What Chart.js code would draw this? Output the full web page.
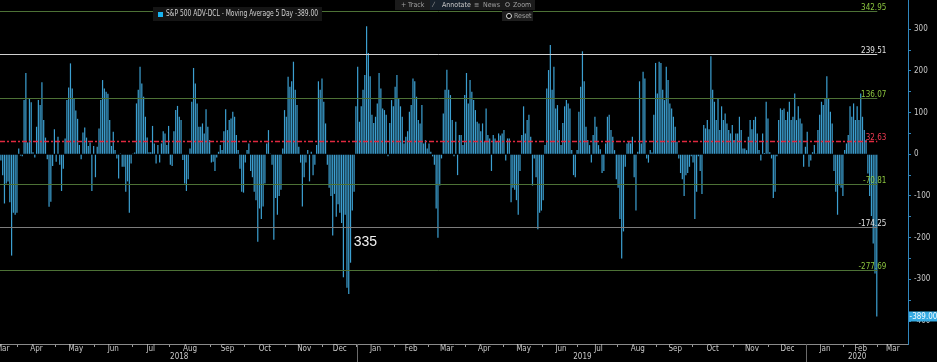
<!DOCTYPE html>
<html>
<head>
<meta charset="utf-8">
<script src="https://cdn.jsdelivr.net/npm/chart.js@4.4.1/dist/chart.umd.min.js"></script>
<style>
  html, body { margin: 0; padding: 0; background: #000; }
  #wrap { position: relative; width: 937px; height: 362px; overflow: hidden;
          font-family: 'Liberation Sans Narrow', 'DejaVu Sans Condensed', Roboto, sans-serif; }
  #chart { position: absolute; left: 0; top: 0; }
  .abs { position: absolute; white-space: nowrap; }
  .tb { left: 395px; top: 0; width: 140px; height: 10px; background: #1b1b1b; }
  .tbtxt { color: #a0a0a0; font-size: 7px; line-height: 10px; top: 0; }
  .annot { left: 430px; top: 0; width: 40px; height: 10px; background: #18222d; }
  .reset { left: 502px; top: 11px; width: 31px; height: 10px; background: #1e1e1e; }
  .legend { left: 153px; top: 7px; width: 169px; height: 14px; background: #151515; }
  .legsq { left: 158px; top: 12px; width: 5px; height: 5px; background: #19b3f0; }
  .legtxt { left: 166px; top: 7px; color: #d0d0d0; font-size: 8px; line-height: 14px;
            transform: scaleX(0.83); transform-origin: 0 0; }
  .mag { left: 505px; top: 2px; width: 3px; height: 3px; border: 1px solid #888; border-radius: 50%; }
  .dot { left: 506px; top: 13px; width: 4px; height: 4px; border: 1px solid #ddd; border-radius: 50%; background: #000; }
</style>
</head>
<body>
<div id="wrap">
  <canvas id="chart" width="937" height="362"></canvas>
  <div class="abs tb"></div>
  <div class="abs annot"></div>
  <span class="abs tbtxt" style="left:401px">+</span>
  <span class="abs tbtxt" style="left:408px">Track</span>
  <span class="abs tbtxt" style="left:433px">&#8260;</span>
  <span class="abs tbtxt" style="left:442px;color:#c8c8c8">Annotate</span>
  <span class="abs tbtxt" style="left:474px">&#8801;</span>
  <span class="abs tbtxt" style="left:483px">News</span>
  <div class="abs mag"></div>
  <span class="abs tbtxt" style="left:513px">Zoom</span>
  <div class="abs reset"></div>
  <div class="abs dot"></div>
  <span class="abs tbtxt" style="left:514px;top:11px">Reset</span>
  <div class="abs legend"></div>
  <div class="abs legsq"></div>
  <span class="abs legtxt" id="legtxt"></span>
</div>
<script>
// S&P 500 advance-decline, 5 day moving average, one value per trading day
// from mid Mar 2018 to 28 Feb 2020
const ADV_DCL_MA5 = [
  // mid Mar - Jun 2018
  -15, -50, -118, -70, -65, -115, -243, -140, -145, -140,
  14, -3, -5, 130, 195, 28, 135, 125, 5, -8,
  66, 130, 118, 173, 82, 40, -12, -126, -114, -28,
  60, -18, 42, -25, -88, -35, 38, 130, 160, 218,
  158, 135, 105, 85, 22, -12, 52, 64, 40, 20,
  28, -88, 20, -55, 18, 62, 130, 178, 158, 150,
  145, 82, 20, 54, 10, -10, -58, 2, -30, -30,
  // Jun - Sep 2018
  -90, -65, -140, -22, 2, 4, 122, 155, 210, 170,
  138, 90, 40, 5, 5, 68, 26, -22, 22, -20,
  26, 55, 50, 22, 68, -25, -28, 55, 106, 116,
  90, 82, -14, -70, -88, -60, 14, 126, 207, 170,
  122, 66, 66, 74, 50, 108, 66, 34, -20, -18,
  -40, -8, 6, 22, 10, 55, 108, 58, 82, 86,
  102, 90, 46, 10, -35, -90, -92, -20, 10, 26,
  // Oct 2018 - Jan 2019
  -40, -55, -90, -110, -210, -130, -155, -125, -70, 26,
  58, 2, -25, -205, -105, -145, -100, -85, 14, 106,
  90, 186, 162, 175, 222, 155, 118, 18, -20, -125,
  -55, -20, 10, -65, 6, -50, -25, 22, 175, 155,
  182, 126, 74, -25, -80, -100, -195, -95, -150, -120,
  -140, -165, -295, -145, -320, -335, -260, -135, -90, 115,
  210, 78, 115, 155, 190, 307, 243, 187, 95, 75, 90,
  // Jan - May 2019
  122, 195, 158, 110, 106, 95, -5, 75, 130, 115,
  162, 190, 135, 115, 90, 26, 42, 55, 102, 118,
  182, 175, 138, 82, 74, 118, 26, 34, 14, 26,
  6, -5, -25, -130, -200, -75, -10, 98, 155, 203,
  155, 142, 82, -5, 78, -50, 46, 46, 22, 142,
  195, 122, 178, 150, 130, 106, 78, 74, 55, 74,
  30, 110, 46, 38, -40, 46, 38, 30, 50, 45, 50,
  // May - Aug 2019
  58, -15, 38, 38, -115, -80, -85, -110, -145, -40,
  46, 115, 50, 82, 95, 42, -75, -10, -55, -180,
  -140, -135, -110, 22, 158, 202, 262, 155, 210, 110,
  118, 58, 22, 75, 115, 130, 122, 110, 10, -50,
  -55, 10, 102, 162, 247, 175, 66, 34, 22, -20,
  46, 90, 66, 22, 12, -45, -40, 26, 90, 95,
  58, 42, 10, -60, -80, -155, -250, -185, -30, 26, 30,
  // Aug - Nov 2019
  26, 42, -55, -135, 6, 175, 26, 198, 182, -10,
  -20, 10, 4, 95, 219, 146, 222, 219, 155, 130,
  210, 178, 122, 110, 90, 66, 30, -10, -45, -60,
  -100, -50, -45, -30, -5, -20, -155, -90, -5, -40,
  -95, 70, 62, 82, 60, 235, 155, 126, 82, 135,
  58, 115, 82, 98, 74, 58, 50, 70, 34, 50,
  50, 90, 58, 14, 14, 10, 42, 82, 60, 82,
  // Nov 2019 - Feb 2020
  90, 50, 10, -15, 50, 3, 126, 86, 5, -10,
  -105, -90, -5, 82, 110, 106, 110, 82, 102, 126,
  82, 90, 146, 82, 115, 86, 74, -30, 18, 54,
  -30, -15, 5, 22, 2, 58, 95, 126, 118, 135,
  187, 135, 102, 74, -40, -90, -145, -75, -80, -100,
  10, 26, 46, 115, 90, 122, 82, 115, 82, 146,
  90, 58, 34, -46, -100, -148, -214, -286, -389
];

// mean and +/- 1, 2, 3 standard deviations
const REF_LEVELS = [342.95, 239.51, 136.07, 32.63, -70.81, -174.25, -277.69];

// x axis: months and how many trading-day slots each one takes on screen
const MONTH_NAMES = ['Mar', 'Apr', 'May', 'Jun', 'Jul', 'Aug', 'Sep', 'Oct', 'Nov', 'Dec',
  'Jan', 'Feb', 'Mar', 'Apr', 'May', 'Jun', 'Jul', 'Aug', 'Sep', 'Oct', 'Nov', 'Dec',
  'Jan', 'Feb', 'Mar'];
const MONTH_DAYS = [10, 21, 22, 21, 21, 23, 19, 23, 21, 19,
  21, 19, 21, 21, 22, 20, 22, 22, 20, 23, 20, 21,
  21, 19, 17];
const YEARS = ['2018', '2019', '2020'];

const SERIES_NAME = 'S&P 500 ADV-DCL - Moving Average 5 Day';
const NOTE_TEXT = '335';

const FONT = "'Liberation Sans Narrow', 'DejaVu Sans Condensed', Roboto, sans-serif";
const BAR_COLOR = '#3c9fd0';

// build slot labels
const slotText = [];
const monthStarts = new Set();
const yearBounds = [0];
let pos = 0;
MONTH_NAMES.forEach((m, k) => {
  const days = MONTH_DAYS[k];
  if (k > 0) monthStarts.add(pos);
  if (k > 0 && m === 'Jan') yearBounds.push(pos);
  for (let d = 0; d < days; d++) slotText.push('');
  const mid = k === 0 ? pos + 1 : pos + Math.floor(days / 2);
  slotText[mid] = m;
  pos += days;
});
yearBounds.push(pos);
YEARS.forEach((yr, k) => {
  const mid = Math.floor((yearBounds[k] + yearBounds[k + 1]) / 2);
  slotText[mid] = [slotText[mid] || '', yr];
});
const slotLabels = slotText.map((_, i) => String(i));

const lastVal = ADV_DCL_MA5[ADV_DCL_MA5.length - 1];
document.getElementById('legtxt').textContent = SERIES_NAME + ' ' + lastVal.toFixed(2);

const LINE_STYLES = [
  { line: '#4d7236', text: '#8cc63f', dash: [], width: 1 },
  { line: '#d0d0d0', text: '#e0e0e0', dash: [], width: 1 },
  { line: '#4d7236', text: '#8cc63f', dash: [], width: 1 },
  { line: '#e0283f', text: '#ee3a52', dash: [5, 2, 2, 2], width: 1.6 },
  { line: '#4d7236', text: '#8cc63f', dash: [], width: 1 },
  { line: '#7c7c7c', text: '#e0e0e0', dash: [], width: 1 },
  { line: '#4d7236', text: '#8cc63f', dash: [], width: 1 }
];

const refLinesPlugin = {
  id: 'refLines',
  afterDatasetsDraw(chart) {
    const { ctx, chartArea, scales: { x, y } } = chart;
    const xEnd = x.getPixelForValue(ADV_DCL_MA5.length - 1) + 0.5;
    ctx.save();
    ctx.font = '8px ' + FONT;
    ctx.textAlign = 'right';
    ctx.textBaseline = 'bottom';
    REF_LEVELS.forEach((lvl, i) => {
      const st = LINE_STYLES[i];
      const py = Math.round(y.getPixelForValue(lvl)) + 0.5;
      ctx.strokeStyle = st.line;
      ctx.lineWidth = st.width;
      ctx.setLineDash(st.dash);
      ctx.beginPath();
      ctx.moveTo(chartArea.left, py);
      ctx.lineTo(xEnd, py);
      ctx.stroke();
      ctx.fillStyle = st.text;
      ctx.fillText(lvl.toFixed(2), xEnd + 9, py);
    });
    ctx.restore();
  }
};

const extrasPlugin = {
  id: 'extras',
  afterDraw(chart) {
    const { ctx, chartArea, scales: { x, y } } = chart;
    ctx.save();
    // year separators below the axis
    ctx.strokeStyle = '#6a6a6a';
    ctx.lineWidth = 1;
    yearBounds.slice(1, -1).forEach(i => {
      const px = Math.round((x.getPixelForValue(i - 1) + x.getPixelForValue(i)) / 2) + 0.5;
      ctx.beginPath();
      ctx.moveTo(px, chartArea.bottom);
      ctx.lineTo(px, chart.height);
      ctx.stroke();
    });
    // note next to the December 2018 low
    const lowIdx = ADV_DCL_MA5.indexOf(-Number(NOTE_TEXT));
    ctx.fillStyle = '#f0f0f0';
    ctx.font = "14px 'Liberation Sans', sans-serif";
    ctx.textAlign = 'left';
    ctx.textBaseline = 'middle';
    ctx.fillText(NOTE_TEXT, x.getPixelForValue(lowIdx) + 5, y.getPixelForValue(-210));
    // last value flag on the right axis
    const ly = y.getPixelForValue(lastVal);
    ctx.fillStyle = '#36abe3';
    ctx.fillRect(chartArea.right + 1, ly - 5, chart.width - chartArea.right - 1, 10);
    ctx.fillStyle = '#f4fbff';
    ctx.font = '8px ' + FONT;
    ctx.textAlign = 'center';
    ctx.fillText(lastVal.toFixed(2), (chartArea.right + chart.width) / 2 + 1, ly + 0.5);
    ctx.restore();
  }
};

new Chart(document.getElementById('chart'), {
  type: 'bar',
  data: {
    labels: slotLabels,
    datasets: [{
      data: ADV_DCL_MA5,
      backgroundColor: BAR_COLOR,
      borderWidth: 0,
      barPercentage: 0.68,
      categoryPercentage: 1
    }]
  },
  plugins: [refLinesPlugin, extrasPlugin],
  options: {
    responsive: false,
    animation: false,
    events: [],
    layout: { padding: 0 },
    plugins: { legend: { display: false }, tooltip: { enabled: false } },
    scales: {
      x: {
        type: 'category',
        offset: true,
        border: { color: '#8a8a8a' },
        grid: {
          offset: true,
          drawOnChartArea: false,
          tickLength: 3,
          color: c => monthStarts.has(c.index) ? '#9a9a9a' : 'rgba(0,0,0,0)'
        },
        ticks: {
          autoSkip: false,
          maxRotation: 0,
          minRotation: 0,
          padding: -2,
          color: '#c8c8c8',
          font: { family: FONT, size: 8, lineHeight: 1 },
          callback: (v, i) => slotText[i]
        },
        afterFit: s => { s.height = 18; s.paddingLeft = 0; s.paddingRight = 0; }
      },
      y: {
        position: 'right',
        min: -455,
        max: 370,
        border: { color: '#2f86bd' },
        grid: {
          drawOnChartArea: false,
          tickLength: 3,
          color: c => (c.tick && c.tick.value % 50 === 0) ? '#2f86bd' : 'rgba(0,0,0,0)'
        },
        ticks: {
          stepSize: 50,
          padding: 3,
          color: '#c8c8c8',
          font: { family: FONT, size: 8 },
          callback: v => v % 100 === 0 ? String(v) : ''
        },
        afterFit: s => { s.width = 29; s.paddingTop = 0; s.paddingBottom = 0; }
      }
    }
  }
});
</script>
</body>
</html>
